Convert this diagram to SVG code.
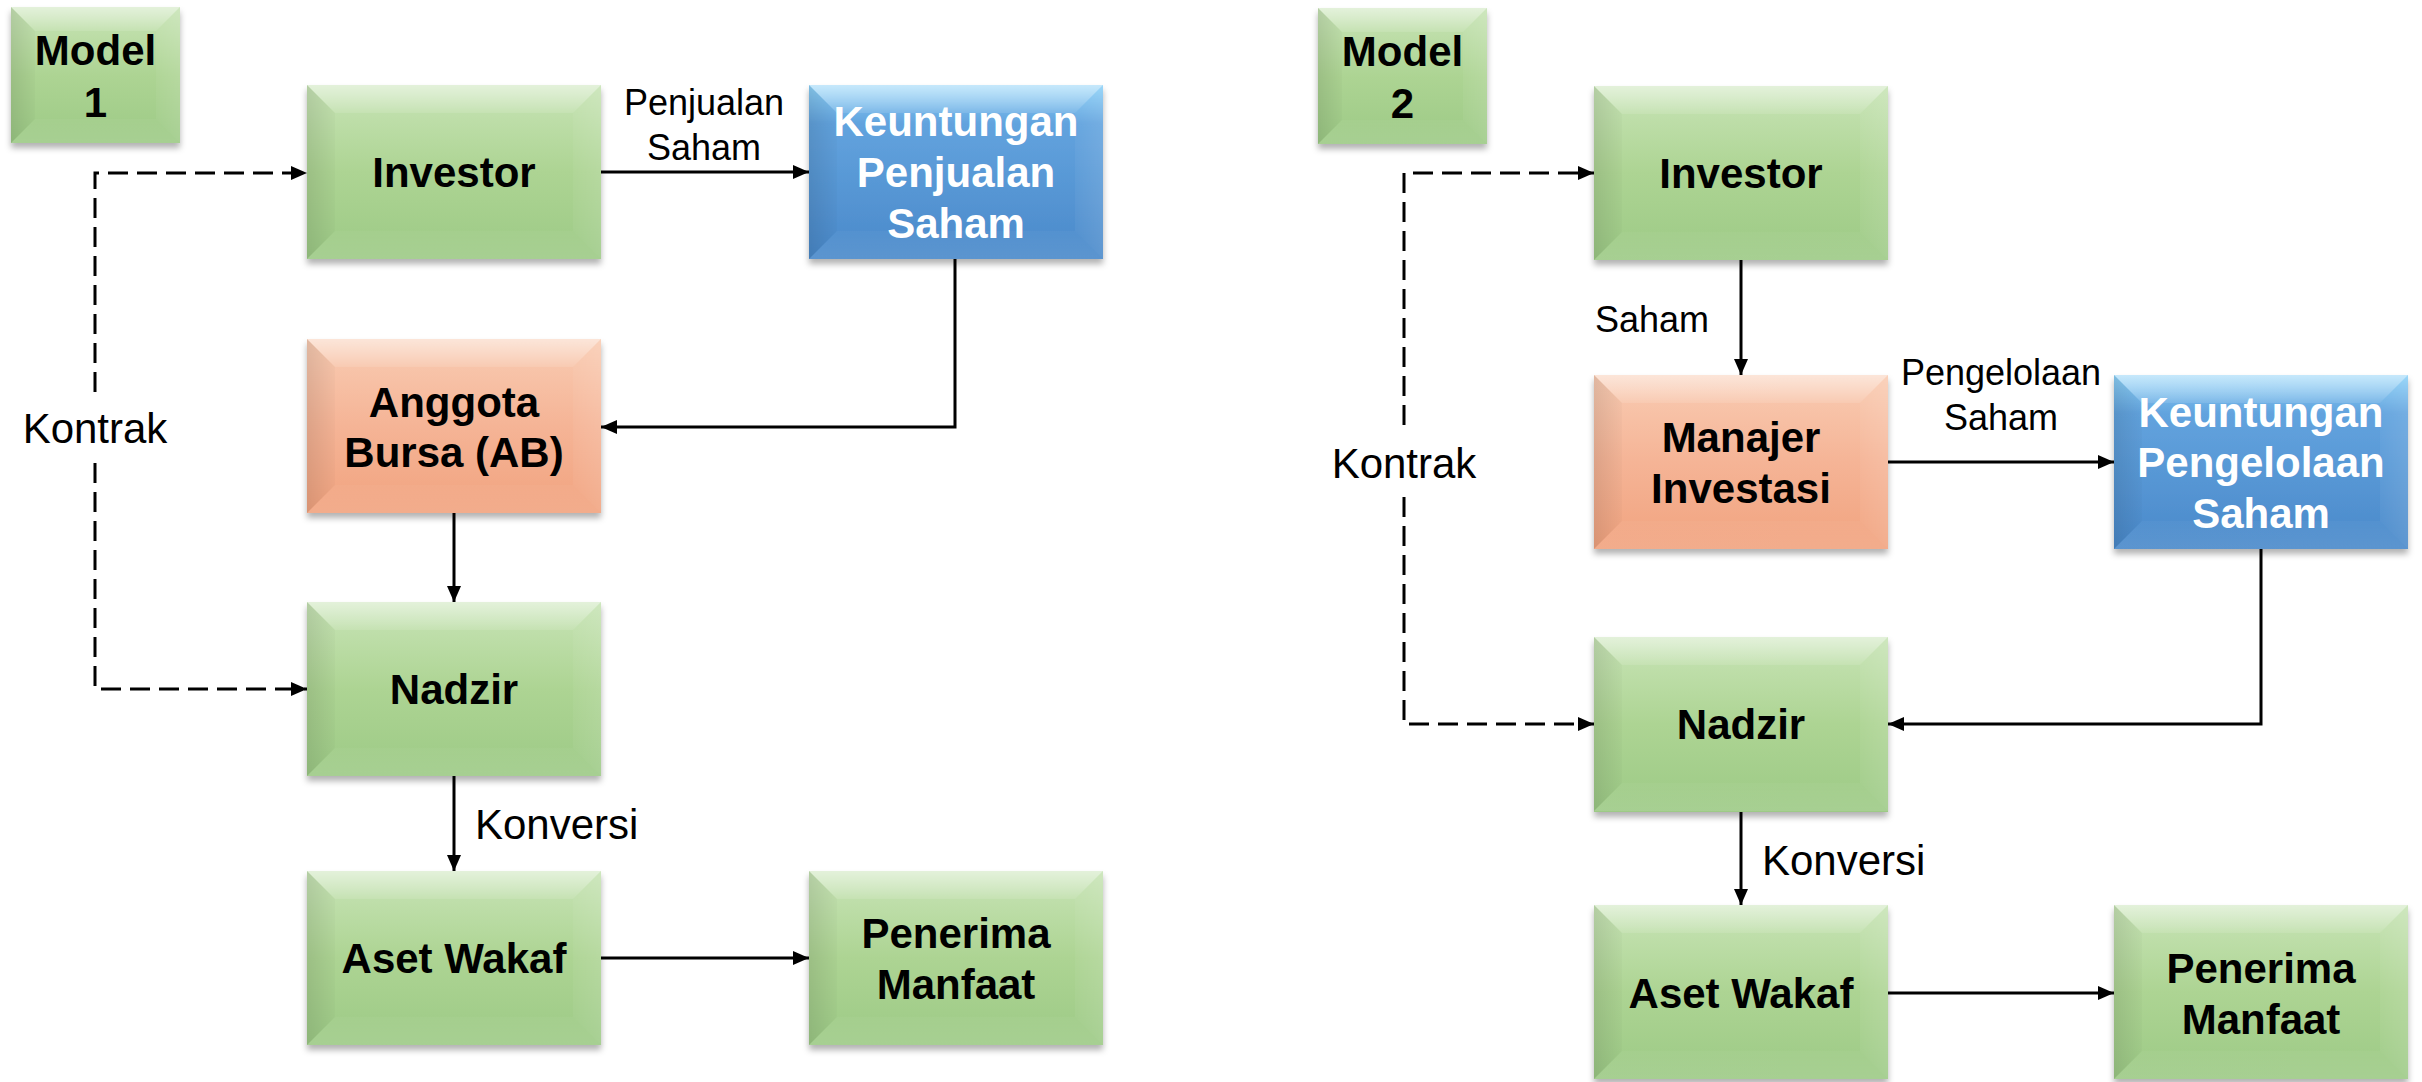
<svg xmlns="http://www.w3.org/2000/svg" xmlns:xlink="http://www.w3.org/1999/xlink" width="2422" height="1082" viewBox="0 0 2422 1082">
<style>
.nt{font-family:"Liberation Sans",Arial,sans-serif;font-weight:bold;font-size:42px;text-anchor:middle;fill:#000}
.wt{fill:#fff}
.lb{font-family:"Liberation Sans",Arial,sans-serif;font-size:36px;fill:#000}
.lb2{font-family:"Liberation Sans",Arial,sans-serif;font-size:42px;fill:#000}
.mid{text-anchor:middle}
.c{stroke:#000;stroke-width:3;fill:none}
.d{stroke:#000;stroke-width:3;fill:none;stroke-dasharray:20 9}
.g{fill:url(#gGreen)}
.o{fill:url(#gOrange)}
.b{fill:url(#gBlue)}
.sh{filter:url(#shadow)}
</style>
<defs>
<filter id="shadow" x="-10%" y="-10%" width="120%" height="130%">
<feDropShadow dx="0" dy="5" stdDeviation="3" flood-color="#000" flood-opacity="0.3"/>
</filter>
<linearGradient id="gGreen" x1="0" y1="0" x2="0" y2="1">
<stop offset="0" stop-color="#c8e4b6"/>
<stop offset="0.5" stop-color="#add493"/>
<stop offset="1" stop-color="#9dca86"/>
</linearGradient>
<linearGradient id="gOrange" x1="0" y1="0" x2="0" y2="1">
<stop offset="0" stop-color="#f9ccb3"/>
<stop offset="0.5" stop-color="#f5b496"/>
<stop offset="1" stop-color="#f1a37f"/>
</linearGradient>
<linearGradient id="gBlue" x1="0" y1="0" x2="0" y2="1">
<stop offset="0" stop-color="#8ed2f8"/>
<stop offset="0.22" stop-color="#62a3de"/>
<stop offset="1" stop-color="#4a89ca"/>
</linearGradient>
<linearGradient id="gTop" x1="0" y1="0" x2="0" y2="1">
<stop offset="0" stop-color="#fff" stop-opacity="0.5"/>
<stop offset="1" stop-color="#fff" stop-opacity="0.1"/>
</linearGradient>
<linearGradient id="gLeft" x1="0" y1="0" x2="1" y2="0">
<stop offset="0" stop-color="#000" stop-opacity="0.1"/>
<stop offset="1" stop-color="#000" stop-opacity="0.02"/>
</linearGradient>
<linearGradient id="gRight" x1="0" y1="0" x2="1" y2="0">
<stop offset="0" stop-color="#fff" stop-opacity="0.04"/>
<stop offset="1" stop-color="#fff" stop-opacity="0.12"/>
</linearGradient>
<linearGradient id="gBot" x1="0" y1="0" x2="0" y2="1">
<stop offset="0" stop-color="#fff" stop-opacity="0.03"/>
<stop offset="1" stop-color="#fff" stop-opacity="0.1"/>
</linearGradient>
<g id="ovBig">
<polygon points="0,0 294,0 266,28 28,28" fill="url(#gTop)"/>
<polygon points="0,0 28,28 28,146 0,174" fill="url(#gLeft)"/>
<polygon points="294,0 294,174 266,146 266,28" fill="url(#gRight)"/>
<polygon points="0,174 28,146 266,146 294,174" fill="url(#gBot)"/>
</g>
<g id="ovSmall">
<polygon points="0,0 169,0 145,24 24,24" fill="url(#gTop)"/>
<polygon points="0,0 24,24 24,112 0,136" fill="url(#gLeft)"/>
<polygon points="169,0 169,136 145,112 145,24" fill="url(#gRight)"/>
<polygon points="0,136 24,112 145,112 169,136" fill="url(#gBot)"/>
</g>
<marker id="ah" markerUnits="userSpaceOnUse" markerWidth="16" markerHeight="14" refX="16" refY="7" orient="auto">
<path d="M0,0 L16,7 L0,14 z" fill="#000"/>
</marker>
</defs>
<rect width="2422" height="1082" fill="#fff"/>

<g id="connectors">
<path class="c" d="M601,172 H809" marker-end="url(#ah)"/>
<path class="c" d="M955,259 V427 H601" marker-end="url(#ah)"/>
<path class="c" d="M454,513 V602" marker-end="url(#ah)"/>
<path class="c" d="M454,776 V871" marker-end="url(#ah)"/>
<path class="c" d="M601,958 H809" marker-end="url(#ah)"/>
<path class="d" d="M95,392 V173 H307" marker-end="url(#ah)"/>
<path class="d" d="M95,463 V689 H307" marker-end="url(#ah)"/>
<text class="lb mid" x="704" y="115">Penjualan</text>
<text class="lb mid" x="704" y="160">Saham</text>
<text class="lb2" x="475" y="839">Konversi</text>
<text class="lb2 mid" x="95" y="443">Kontrak</text>
<path class="c" d="M1741,260 V375" marker-end="url(#ah)"/>
<path class="c" d="M1888,462 H2114" marker-end="url(#ah)"/>
<path class="c" d="M2261,548 V724 H1888" marker-end="url(#ah)"/>
<path class="c" d="M1741,812 V905" marker-end="url(#ah)"/>
<path class="c" d="M1888,993 H2114" marker-end="url(#ah)"/>
<path class="d" d="M1404,425 V173 H1594" marker-end="url(#ah)"/>
<path class="d" d="M1404,497 V724 H1594" marker-end="url(#ah)"/>
<text class="lb" x="1595" y="332">Saham</text>
<text class="lb mid" x="2001" y="385">Pengelolaan</text>
<text class="lb mid" x="2001" y="430">Saham</text>
<text class="lb2" x="1762" y="875">Konversi</text>
<text class="lb2 mid" x="1404" y="478">Kontrak</text>
</g>

<g id="n-model1" transform="translate(11,7)">
<rect class="g sh" width="169" height="136"/><use href="#ovSmall"/>
<text class="nt" x="84.5" y="58">Model</text><text class="nt" x="84.5" y="110">1</text>
</g>
<g id="n-investor1" transform="translate(307,85)">
<rect class="g sh" width="294" height="174"/><use href="#ovBig"/>
<text class="nt" x="147" y="102">Investor</text>
</g>
<g id="n-keuntungan1" transform="translate(809,85)">
<rect class="b sh" width="294" height="174"/><use href="#ovBig"/>
<text class="nt wt" x="147" y="51">Keuntungan</text>
<text class="nt wt" x="147" y="102">Penjualan</text>
<text class="nt wt" x="147" y="153">Saham</text>
</g>
<g id="n-anggota" transform="translate(307,339)">
<rect class="o sh" width="294" height="174"/><use href="#ovBig"/>
<text class="nt" x="147" y="78">Anggota</text>
<text class="nt" x="147" y="128">Bursa (AB)</text>
</g>
<g id="n-nadzir1" transform="translate(307,602)">
<rect class="g sh" width="294" height="174"/><use href="#ovBig"/>
<text class="nt" x="147" y="102">Nadzir</text>
</g>
<g id="n-aset1" transform="translate(307,871)">
<rect class="g sh" width="294" height="174"/><use href="#ovBig"/>
<text class="nt" x="147" y="102">Aset Wakaf</text>
</g>
<g id="n-penerima1" transform="translate(809,871)">
<rect class="g sh" width="294" height="174"/><use href="#ovBig"/>
<text class="nt" x="147" y="77">Penerima</text>
<text class="nt" x="147" y="128">Manfaat</text>
</g>

<g id="n-model2" transform="translate(1318,8)">
<rect class="g sh" width="169" height="136"/><use href="#ovSmall"/>
<text class="nt" x="84.5" y="58">Model</text><text class="nt" x="84.5" y="110">2</text>
</g>
<g id="n-investor2" transform="translate(1594,86)">
<rect class="g sh" width="294" height="174"/><use href="#ovBig"/>
<text class="nt" x="147" y="102">Investor</text>
</g>
<g id="n-manajer" transform="translate(1594,375)">
<rect class="o sh" width="294" height="174"/><use href="#ovBig"/>
<text class="nt" x="147" y="77">Manajer</text>
<text class="nt" x="147" y="128">Investasi</text>
</g>
<g id="n-keuntungan2" transform="translate(2114,375)">
<rect class="b sh" width="294" height="174"/><use href="#ovBig"/>
<text class="nt wt" x="147" y="52">Keuntungan</text>
<text class="nt wt" x="147" y="102">Pengelolaan</text>
<text class="nt wt" x="147" y="153">Saham</text>
</g>
<g id="n-nadzir2" transform="translate(1594,637)">
<rect class="g sh" width="294" height="175"/><use href="#ovBig"/>
<text class="nt" x="147" y="102">Nadzir</text>
</g>
<g id="n-aset2" transform="translate(1594,905)">
<rect class="g sh" width="294" height="174"/><use href="#ovBig"/>
<text class="nt" x="147" y="103">Aset Wakaf</text>
</g>
<g id="n-penerima2" transform="translate(2114,905)">
<rect class="g sh" width="294" height="174"/><use href="#ovBig"/>
<text class="nt" x="147" y="78">Penerima</text>
<text class="nt" x="147" y="129">Manfaat</text>
</g>
</svg>
